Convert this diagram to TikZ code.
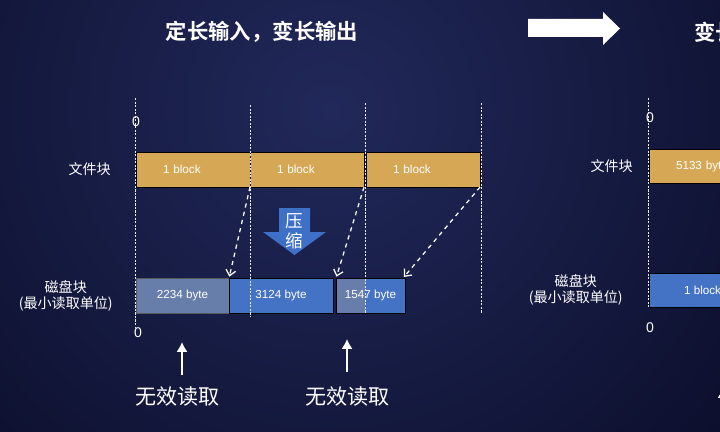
\documentclass[tikz,border=0pt]{standalone}
\usepackage{fontspec}
\setmainfont{Liberation Sans}
\newfontfamily\cjk{Noto Sans CJK SC}[BoldFont={Noto Sans CJK SC Bold}]
\usetikzlibrary{positioning,arrows,arrows.meta,calc}

\definecolor{bglite}{RGB}{33,41,90}
\definecolor{bgdark}{RGB}{10,12,40}
\definecolor{fileor}{RGB}{214,168,86}
\definecolor{diskbl}{RGB}{68,114,196}
\definecolor{wastegr}{RGB}{104,126,170}
\definecolor{zipbl}{RGB}{62,112,200}

\begin{document}
\begin{tikzpicture}[
      >=latex',
      x=0.025cm, y=-0.025cm,
      node distance=0pt
    ]

    \tikzstyle{fblock} = [rectangle, draw=black, line width=0.6pt, fill=fileor, minimum height=0.875cm, text width=1.5cm, inner xsep=0.675cm, inner ysep=0pt, align=left, text=white, font=\fontsize{8.3}{10}\selectfont, outer sep=0pt]
    \tikzstyle{dblock} = [rectangle, draw=black, line width=0.6pt, fill=diskbl, minimum height=0.875cm, inner sep=0pt, text=white, font=\fontsize{8.3}{10}\selectfont, outer sep=0pt]
    \tikzstyle{lab} = [text=white, align=center, inner sep=0pt, font=\cjk\fontsize{10}{11.5}\selectfont]
    \tikzstyle{zero} = [text=white, inner sep=0pt, font=\fontsize{10}{12}\selectfont]
    \tikzstyle{title} = [text=white, inner sep=0pt, font=\cjk\bfseries\fontsize{15.2}{18}\selectfont]
    \tikzstyle{guide} = [white!85!gray, line width=0.5pt, dash pattern=on 1.5pt off 1pt]
    \tikzstyle{zarr} = [white, dashed, line width=0.9pt, -{Straight Barb[length=4pt,width=7pt]}, shorten >=1pt]
    \tikzstyle{uparr} = [white, line width=1.8pt, -{Latex[length=7pt,width=8pt]}]

    \useasboundingbox (0,0) rectangle (720,432);
    \clip (0,0) rectangle (720,432);
    \fill[bgdark] (0,0) rectangle (720,432);
    \shade[inner color=bglite, outer color=bgdark] (330,110) circle [radius=560];

    % titles
    \node [title] (ttl) at (262,32) {定长输入，变长输出};
    \fill[white] (528,19) -- (603,19) -- (603,12) -- (620,28.5) -- (603,45) -- (603,37) -- (528,37) -- cycle;
    \node [title, anchor=west] (ttl2) at (694,32) {变长};

    % file blocks
    \node [fblock, anchor=north west] (f1) at (136,152) {1 block};
    \node [fblock, right=of f1] (f2) {1 block};
    \node [fblock, right=0.05cm of f2] (f3) {1 block};
    \node [lab, left=0.625cm of f1] (flab) {文件块};

    % disk blocks
    \node [dblock, fill=wastegr, draw=gray!70!black, minimum width=2.325cm, anchor=north west] (d1) at (136,278) {2234 byte};
    \node [dblock, minimum width=2.6cm, right=of d1] (d2) {3124 byte};
    \node [dblock, minimum width=1.725cm, right=0.075cm of d2,
           path picture={\fill[wastegr] (path picture bounding box.north west) rectangle ($(path picture bounding box.south west)+(29,0)$);}] (d3) {1547 byte};
    \node [lab, left=0.575cm of d1] (dlab) {磁盘块\\(最小读取单位)};

    \node [zero] (z1) at (136,122) {0};
    \node [zero] (z2) at (138,333) {0};

    % guides
    \draw [guide] (f1.north west) ++(-1,-54) -- ++(0,230);
    \draw [guide] (f1.north east) ++(0,-47) -- ++(0,212);
    \draw [guide] (f2.north east) ++(1,-49) -- ++(0,210);
    \draw [guide] (f3.north east) ++(1,-49) -- ++(0,210);

    % compression
    \draw [zarr] (f1.south east) -- (d1.north east);
    \draw [zarr] (f2.south east) -- (d3.north west);
    \draw [zarr] (f3.south east) -- ($(d3.north east)+(-2,0)$);

    \fill[zipbl] (279,208) -- (310,208) -- (310,232) -- (326,232) -- (294.5,255) -- (263,232) -- (279,232) -- cycle;
    \node [text=white, align=center, inner sep=0pt, font=\cjk\fontsize{12.5}{14.2}\selectfont] (zip) at (294.5,231) {压\\缩};

    % wasted reads
    \node [lab, font=\cjk\fontsize{15}{18}\selectfont] (w1) at (177.5,397) {无效读取};
    \node [lab, font=\cjk\fontsize{15}{18}\selectfont] (w2) at (347.5,397) {无效读取};
    \coordinate (u1s) at (182,375);
    \coordinate (u1t) at (182,342);
    \coordinate (u2s) at (347,372);
    \coordinate (u2t) at (347,339);
    \draw [uparr] (u1s) -- (u1t);
    \draw [uparr] (u2s) -- (u2t);

    % right half
    \node [fblock, minimum height=0.85cm, anchor=north west] (r1) at (649,149) {5133 byte};
    \node [lab, left=0.4cm of r1] (rflab) {文件块};
    \node [dblock, minimum width=2.675cm, minimum height=0.85cm, anchor=north west] (r2) at (649,273) {1 block};
    \node [lab, left=0.65cm of r2] (rdlab) {磁盘块\\(最小读取单位)};
    \node [zero] (z3) at (650,118) {0};
    \node [zero] (z4) at (650,328) {0};
    \draw [guide] (r1.north west) ++(-1,-51) -- ++(0,209);
    \coordinate (u3s) at (723,420);
    \coordinate (u3t) at (723,388);
    \draw [uparr] (u3s) -- (u3t);

\end{tikzpicture}
\end{document}
